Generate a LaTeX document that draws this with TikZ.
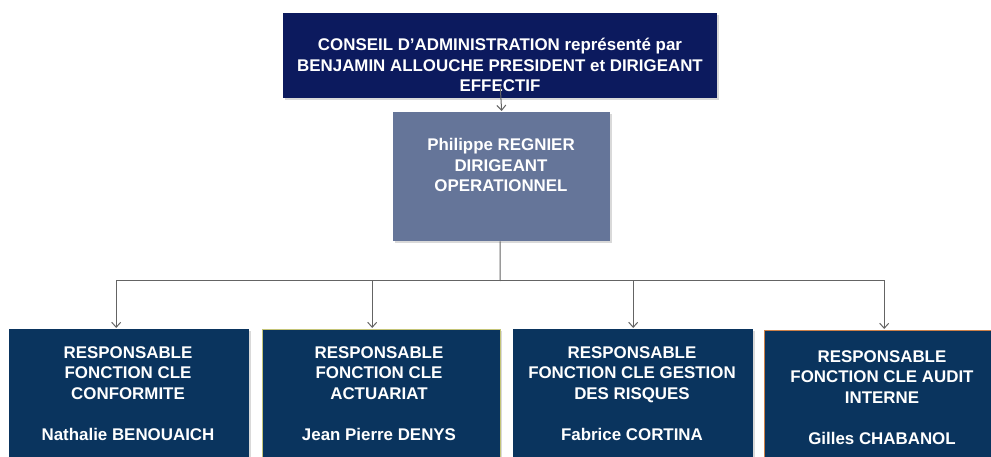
\documentclass[tikz,border=0pt]{standalone}
\usepackage{fontspec}
\setmainfont{Liberation Sans}
\usetikzlibrary{arrows.meta,shadows}
\definecolor{conseil}{RGB}{12,26,94}
\definecolor{dirop}{RGB}{101,117,153}
\definecolor{fonction}{RGB}{10,52,94}
\definecolor{lien}{RGB}{100,100,100}

\begin{document}
\begin{tikzpicture}[x=1pt,y=1pt,
  box/.style={rectangle,inner sep=0pt,anchor=north west,drop shadow={opacity=.3,shadow xshift=2pt,shadow yshift=-2pt}},
  fbox/.style={box,fill=fonction,minimum width=240pt,minimum height=140pt},
  txt/.style={text=white,font=\bfseries\fontsize{16.9}{20.6}\selectfont,align=center,inner sep=0pt,anchor=north},
  post/.style={->,>={Straight Barb[length=5pt,width=9pt]},shorten >=1pt,draw=lien,line width=1pt},
  link/.style={draw=lien,line width=1pt}]

\useasboundingbox (0,0) rectangle (991,-457);
\clip (0,0) rectangle (991,-457);

% conseil + dirigeant operationnel
\node[box,fill=conseil,minimum width=434pt,minimum height=85pt] (ca) at (283,-13) {};
\node[txt] (ca-t) at (500,-38) {CONSEIL D’ADMINISTRATION représenté par\\BENJAMIN ALLOUCHE PRESIDENT et DIRIGEANT\\EFFECTIF};

\node[box,fill=dirop,minimum width=217pt,minimum height=129pt] (dir) at (393,-112) {};
\node[txt] (dir-t) at (501,-138) {Philippe REGNIER\\DIRIGEANT\\OPERATIONNEL};

% fonctions cles
\node[fbox] (f1) at (9,-329) {};
\node[fbox,minimum width=238pt,draw={rgb,255:red,196;green,196;blue,120}] (f2) at (262,-329) {};
\node[fbox] (f3) at (513,-329) {};
\node[fbox,draw={rgb,255:red,205;green,128;blue,72}] (f4) at (764,-330) {};

\node[txt] (f1-t) at (128,-346) {RESPONSABLE\\FONCTION CLE\\CONFORMITE\\[20.6pt]Nathalie BENOUAICH};
\node[txt] (f2-t) at (379,-346) {RESPONSABLE\\FONCTION CLE\\ACTUARIAT\\[20.6pt]Jean Pierre DENYS};
\node[txt] (f3-t) at (632,-346) {RESPONSABLE\\FONCTION CLE GESTION\\DES RISQUES\\[20.6pt]Fabrice CORTINA};
\node[txt] (f4-t) at (882,-350) {RESPONSABLE\\FONCTION CLE AUDIT\\INTERNE\\[20.6pt]Gilles CHABANOL};

\coordinate (split) at (500,-281);

\draw[post] ([yshift=13pt]ca.south) -- (dir.north);
\draw[link] ([xshift=-1.5pt]dir.south) -- (split);

\foreach \i/\dx in {1/-13,2/-9,3/0,4/0}{
\draw[post] (split) -| ([xshift=\dx pt]f\i.north);
}

\end{tikzpicture}
\end{document}
